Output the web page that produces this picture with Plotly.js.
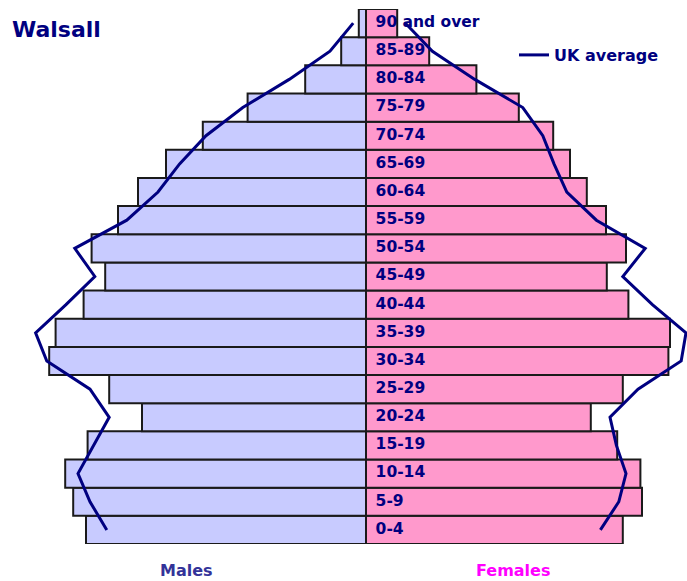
<!DOCTYPE html>
<html>
<head>
<meta charset="utf-8">
<script src="https://cdn.plot.ly/plotly-3.0.1.min.js"></script>
<style>html,body{margin:0;padding:0;background:#fff;}#chart{width:687px;height:581px;}</style>
</head>
<body>
<div id="chart"></div>
<script>
// Age groups, bottom to top
const ageGroups = ['0-4','5-9','10-14','15-19','20-24','25-29','30-34','35-39','40-44','45-49','50-54','55-59','60-64','65-69','70-74','75-79','80-84','85-89','90 and over'];
// Walsall population share (% of total)
const walsallMales   = [3.50,3.66,3.76,3.48,2.80,3.21,3.96,3.88,3.53,3.26,3.43,3.10,2.85,2.50,2.04,1.48,0.76,0.31,0.09];
const walsallFemales = [3.21,3.45,3.43,3.14,2.81,3.21,3.78,3.80,3.28,3.01,3.25,3.00,2.76,2.55,2.34,1.91,1.38,0.79,0.39];
// UK average
const ukMales   = [3.24,3.45,3.60,3.40,3.21,3.45,3.99,4.13,3.75,3.39,3.64,2.99,2.60,2.33,2.00,1.54,0.96,0.45,0.16];
const ukFemales = [2.93,3.16,3.25,3.13,3.05,3.40,3.94,4.00,3.58,3.21,3.49,2.88,2.51,2.35,2.21,1.96,1.36,0.83,0.49];

const FONT = 'DejaVu Sans, Verdana, sans-serif';
const NAVY = '#000080';

const traces = [
  {
    type: 'bar', orientation: 'h', name: 'Males',
    y: ageGroups, x: walsallMales.map(v => -v),
    marker: {color: '#C8CBFF', line: {color: '#1a1a1a', width: 2}},
    showlegend: false, hoverinfo: 'skip'
  },
  {
    type: 'bar', orientation: 'h', name: 'Females',
    y: ageGroups, x: walsallFemales,
    marker: {color: '#FF99CC', line: {color: '#1a1a1a', width: 2}},
    showlegend: false, hoverinfo: 'skip'
  },
  {
    type: 'scatter', mode: 'text',
    y: ageGroups, x: ageGroups.map(() => 0.12),
    text: ageGroups, textposition: 'middle right',
    textfont: {family: FONT, size: 15.5, color: NAVY, weight: 'bold'},
    showlegend: false, hoverinfo: 'skip'
  },
  {
    type: 'scatter', mode: 'lines', name: 'UK average',
    y: ageGroups.concat([null]).concat(ageGroups),
    x: ukMales.map(v => -v).concat([null]).concat(ukFemales),
    line: {color: NAVY, width: 3},
    connectgaps: false, hoverinfo: 'skip'
  }
];

const layout = {
  width: 687, height: 581,
  margin: {l: 0, r: 0, t: 9, b: 37, pad: 0},
  paper_bgcolor: '#ffffff', plot_bgcolor: '#ffffff',
  barmode: 'overlay', bargap: 0,
  title: {text: 'Walsall', x: 12/687, xanchor: 'left', y: 1 - 29/581, yanchor: 'middle',
          font: {family: FONT, size: 22, color: NAVY, weight: 'bold'}},
  xaxis: {range: [-366/80, 321/80], visible: false, fixedrange: true},
  yaxis: {type: 'category', categoryorder: 'array', categoryarray: ageGroups,
          range: [-0.5, ageGroups.length - 0.5], autorange: false, visible: false, fixedrange: true},
  showlegend: true,
  legend: {x: 514/687, xanchor: 'left', y: 1 - (55-9)/535, yanchor: 'middle',
           bgcolor: 'rgba(0,0,0,0)', borderwidth: 0, itemwidth: 30,
           font: {family: FONT, size: 16, color: NAVY, weight: 'bold'}},
  annotations: [
    {xref: 'paper', yref: 'paper', x: 186/687, y: (544-570)/535, xanchor: 'center', yanchor: 'middle',
     text: 'Males', showarrow: false, font: {family: FONT, size: 16, color: '#333399', weight: 'bold'}},
    {xref: 'paper', yref: 'paper', x: 513/687, y: (544-570)/535, xanchor: 'center', yanchor: 'middle',
     text: 'Females', showarrow: false, font: {family: FONT, size: 16, color: '#FF00FF', weight: 'bold'}}
  ]
};

Plotly.newPlot('chart', traces, layout, {staticPlot: true, displayModeBar: false});
</script>
</body>
</html>
